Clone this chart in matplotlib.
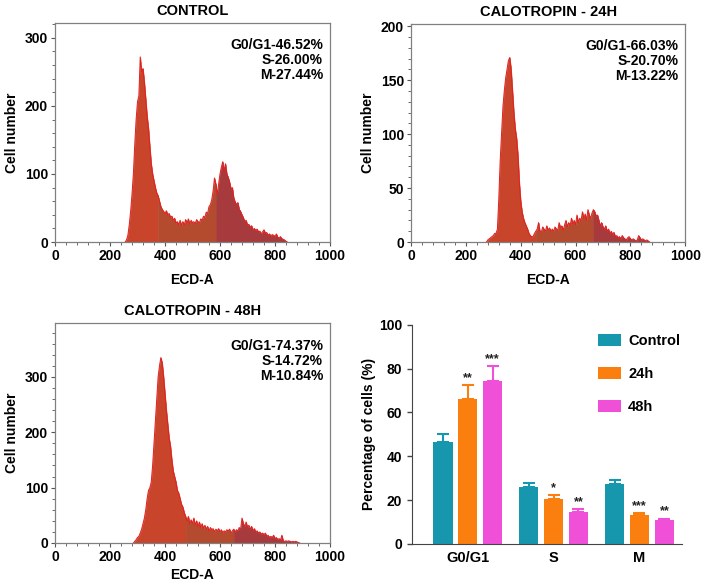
import numpy as np
import matplotlib
matplotlib.use("Agg")
import matplotlib.pyplot as plt
from matplotlib.ticker import MultipleLocator

plt.rcParams['font.family'] = ['Liberation Sans', 'DejaVu Sans']
plt.rcParams['font.weight'] = 'bold'

# ---- histogram data (ECD-A channel, counts, bins of 5) ----
bin_step = 5
ctrl_start = 255
ctrl_y = [0, 3, 10, 25, 45, 70, 100, 143, 180, 206, 215, 272, 250, 255, 235, 210,
          185, 167, 140, 115, 100, 90, 80, 72, 68, 60, 52, 48, 45, 42, 46, 40,
          42, 36, 38, 32, 35, 28, 30, 25, 32, 24, 30, 25, 33, 28, 34, 26,
          32, 28, 30, 27, 33, 30, 28, 34, 32, 38, 36, 44, 42, 52, 55, 62,
          75, 94, 85, 70, 85, 100, 110, 118, 105, 115, 100, 95, 88, 78, 80, 65,
          59, 55, 58, 48, 45, 40, 36, 30, 32, 25, 26, 22, 24, 18, 20, 17,
          19, 15, 16, 12, 15, 18, 13, 14, 10, 12, 9, 11, 10, 8, 12, 7,
          6, 8, 5, 4, 3, 1, 0]

h24_start = 275
h24_y = [0, 2, 3, 4, 5, 6, 8, 8, 12, 40, 75, 100, 125, 140, 152, 160,
         168, 171, 160, 140, 120, 105, 96, 80, 55, 38, 28, 22, 18, 15, 12, 8,
         6, 5, 5, 8, 10, 12, 18, 10, 9, 14, 12, 10, 15, 11, 13, 10,
         12, 10, 14, 12, 11, 18, 13, 15, 11, 16, 20, 14, 18, 15, 22, 17,
         20, 16, 25, 18, 22, 20, 28, 22, 26, 20, 30, 25, 22, 27, 30, 28,
         24, 25, 20, 15, 18, 14, 12, 15, 10, 12, 8, 10, 7, 9, 5, 6,
         4, 5, 3, 6, 4, 3, 2, 4, 5, 3, 2, 3, 2, 1, 2, 6,
         4, 2, 3, 2, 1, 2, 1, 0]

h48_start = 285
h48_y = [0, 3, 6, 10, 12, 18, 25, 35, 45, 60, 80, 95, 100, 110, 140, 180,
         220, 260, 300, 320, 335, 325, 300, 270, 240, 215, 190, 175, 150, 130, 120, 110,
         95, 90, 80, 70, 65, 55, 48, 40, 48, 35, 42, 35, 45, 32, 40, 30,
         38, 28, 35, 26, 32, 25, 30, 22, 28, 24, 26, 20, 25, 22, 26, 20,
         24, 18, 22, 20, 24, 22, 25, 18, 22, 25, 20, 24, 22, 28, 25, 45,
         35, 30, 38, 28, 32, 25, 30, 22, 26, 20, 22, 18, 20, 16, 18, 15,
         18, 12, 14, 10, 12, 10, 14, 8, 10, 6, 8, 5, 14, 4, 3, 4,
         3, 4, 3, 2, 3, 2, 3, 2, 1, 0]

hist_panels = [
    ("CONTROL", ctrl_start, ctrl_y, (375, 585), 322, [0, 100, 200, 300], 20,
     "G0/G1-46.52%\nS-26.00%\nM-27.44%"),
    ("CALOTROPIN - 24H", h24_start, h24_y, (455, 665), 202, [0, 50, 100, 150, 200], 10,
     "G0/G1-66.03%\nS-20.70%\nM-13.22%"),
    ("CALOTROPIN - 48H", h48_start, h48_y, (475, 650), 397, [0, 100, 200, 300], 20,
     "G0/G1-74.37%\nS-14.72%\nM-10.84%"),
]

# ---- bar chart data ----
phases = ["G0/G1", "S", "M"]
groups = ["Control", "24h", "48h"]
pct_ctrl = [46.5, 26.0, 27.4]
pct_24h = [66.0, 20.7, 13.2]
pct_48h = [74.4, 14.7, 10.8]
err_ctrl = [3.6, 1.8, 1.8]
err_24h = [6.5, 1.5, 1.0]
err_48h = [6.6, 1.1, 0.8]
stars_24h = ["**", "*", "***"]
stars_48h = ["***", "**", "**"]

fig = plt.figure(figsize=(7.05, 5.86), dpi=100)
positions = [[0.078, 0.587, 0.390, 0.374],
             [0.583, 0.587, 0.389, 0.372],
             [0.078, 0.0734, 0.390, 0.375]]
xlabel_pads = [7, 7, 3]

seg_colors = ["#C8442A", "#B44A2E", "#A63A3C"]
edge_red = "#E41E1E"

for pos, lp, (title, start, y, (b1, b2), ytop, yt, ymin, txt) in zip(positions, xlabel_pads, hist_panels):
    ax = fig.add_axes(pos)
    y = np.asarray(y, dtype=float)
    x = start + bin_step * np.arange(len(y))
    bounds = [(x[0], b1), (b1, b2), (b2, x[-1])]
    for (lo, hi), c in zip(bounds, seg_colors):
        m = (x >= lo) & (x <= hi)
        ax.fill_between(x[m], 0, y[m], facecolor=c, edgecolor=c, lw=0.4)
    ax.plot(x, y, color=edge_red, lw=0.7)
    ax.set_xlim(0, 1000)
    ax.set_ylim(0, ytop)
    ax.set_xticks([0, 200, 400, 600, 800, 1000])
    ax.xaxis.set_minor_locator(MultipleLocator(40))
    ax.set_yticks(yt)
    ax.yaxis.set_minor_locator(MultipleLocator(ymin))
    ax.tick_params(labelsize=10, width=0.8, length=3, color="#555555", pad=2)
    ax.tick_params(which="minor", length=2, width=0.6, color="#555555")
    for s in ax.spines.values():
        s.set_color("#808080")
        s.set_linewidth(0.9)
    ax.set_title(title, fontsize=10.5, fontweight="bold", pad=6)
    ax.set_xlabel("ECD-A", fontsize=10, fontweight="bold", labelpad=lp)
    ax.set_ylabel("Cell number", fontsize=10, fontweight="bold", labelpad=4)
    ax.text(0.975, 0.93, txt, transform=ax.transAxes, ha="right", va="top",
            fontsize=10, fontweight="bold", linespacing=1.1)

# ---- bar chart ----
ax = fig.add_axes([0.584, 0.0717, 0.384, 0.374])
xc = np.arange(len(phases))
w = 0.23
off = 0.29
bar_colors = ["#1797AE", "#FA7F0F", "#F050D8"]
series = [(pct_ctrl, err_ctrl, None), (pct_24h, err_24h, stars_24h), (pct_48h, err_48h, stars_48h)]
for i, ((vals, errs, stars), c, lab) in enumerate(zip(series, bar_colors, groups)):
    xs = xc + (i - 1) * off
    ax.bar(xs, vals, width=w, color=c, label=lab, zorder=2)
    ax.errorbar(xs, vals, yerr=[np.zeros(len(errs)), errs], fmt="none",
                ecolor=c, elinewidth=1.5, capsize=4, capthick=1.5, zorder=1)
    if stars:
        for xx, v, e, s in zip(xs, vals, errs, stars):
            ax.text(xx, v + e + 0.5, s, ha="center", va="bottom", fontsize=9,
                    fontweight="bold", color="#222222")
ax.set_xlim(-0.65, 2.5)
ax.set_ylim(0, 100)
ax.set_yticks([0, 20, 40, 60, 80, 100])
ax.set_xticks(xc)
ax.set_xticklabels(phases, fontsize=10.5, fontweight="bold")
ax.tick_params(axis="y", labelsize=10, width=1, length=3.5, color="#444444")
ax.tick_params(axis="x", length=0, pad=5)
ax.spines["top"].set_visible(False)
ax.spines["right"].set_visible(False)
ax.spines["left"].set_color("#444444")
ax.spines["bottom"].set_color("#444444")
ax.set_ylabel("Percentage of cells (%)", fontsize=10, fontweight="bold", labelpad=2)
ax.legend(loc="upper right", bbox_to_anchor=(1.04, 1.02), frameon=False,
          fontsize=10.5, handlelength=1.6, handleheight=0.9, labelspacing=1.3,
          handletextpad=0.5)

fig.savefig("out.png", dpi=100)
